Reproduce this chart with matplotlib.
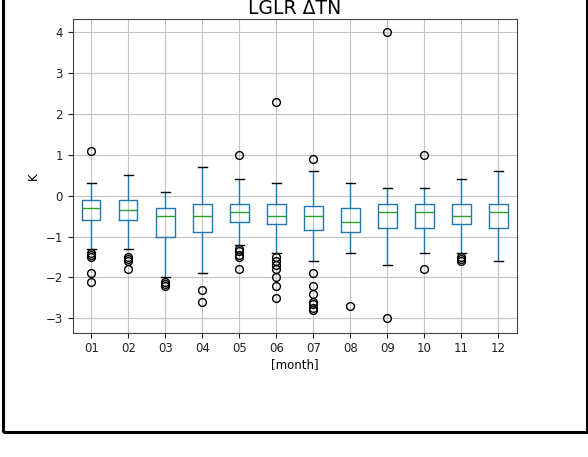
import matplotlib
matplotlib.use("Agg")
import matplotlib.pyplot as plt
from matplotlib.patches import Rectangle

# Monthly box statistics of LGLR ΔTN (K)
months = ["01", "02", "03", "04", "05", "06", "07", "08", "09", "10", "11", "12"]
whishi = [0.3, 0.5, 0.1, 0.7, 0.4, 0.3, 0.6, 0.3, 0.2, 0.2, 0.4, 0.6]
q3 = [-0.1, -0.1, -0.3, -0.2, -0.2, -0.2, -0.25, -0.3, -0.2, -0.2, -0.2, -0.2]
medians = [-0.3, -0.35, -0.5, -0.5, -0.4, -0.5, -0.5, -0.65, -0.4, -0.4, -0.5, -0.4]
q1 = [-0.6, -0.6, -1.0, -0.9, -0.65, -0.7, -0.85, -0.9, -0.8, -0.8, -0.7, -0.8]
whislo = [-1.3, -1.3, -2.0, -1.9, -1.2, -1.4, -1.6, -1.4, -1.7, -1.4, -1.4, -1.6]
fliers = [
    [1.1, -1.4, -1.45, -1.5, -1.9, -2.1],
    [-1.5, -1.55, -1.6, -1.8],
    [-2.1, -2.15, -2.2],
    [-2.3, -2.6],
    [1.0, -1.3, -1.35, -1.45, -1.5, -1.8],
    [2.3, -1.5, -1.6, -1.7, -1.8, -2.0, -2.2, -2.5],
    [0.9, -1.9, -2.2, -2.4, -2.6, -2.65, -2.75, -2.8],
    [-2.7],
    [4.0, -3.0],
    [1.0, -1.8],
    [-1.5, -1.55, -1.6],
    [],
]

W, H = 588, 457
fig = plt.figure(figsize=(W / 100, H / 100), dpi=100)
ax = fig.add_axes([72.7 / W, 1 - 332.7 / H, (517 - 72.7) / W, (332.7 - 19) / H])

stats = [
    dict(label=m, med=md, q1=a, q3=b, whislo=lo, whishi=hi, fliers=f)
    for m, md, a, b, lo, hi, f in zip(months, medians, q1, q3, whislo, whishi, fliers)
]

blue = "#1f77b4"
ax.bxp(
    stats,
    widths=0.5,
    boxprops=dict(color=blue, linewidth=1),
    whiskerprops=dict(color=blue, linewidth=1),
    capprops=dict(color="black", linewidth=1),
    medianprops=dict(color="#2ca02c", linewidth=1),
    flierprops=dict(marker="o", markerfacecolor="none", markeredgecolor="black",
                    markersize=5.6, markeredgewidth=1),
    capwidths=0.25,
)

ax.set_ylim(-3.35, 4.32)
ax.set_yticks([-3, -2, -1, 0, 1, 2, 3, 4])
ax.grid(True, color="#c4c4c4", linewidth=0.8)
ax.set_axisbelow(True)
ax.tick_params(labelsize=8.5, colors="#222222", labelcolor="#222222")
ax.set_xlabel("[month]", fontsize=8.5, labelpad=2)
ax.set_ylabel("K", fontsize=8.5)
for s in ax.spines.values():
    s.set_color("#444444")

fig.text(295 / W, 1 - 14 / H, "LGLR ΔTN", ha="center", va="baseline", fontsize=13.5)

# Frame around the whole figure
fig.patches.append(Rectangle((3 / W, 1 - 432 / H), (586.5 - 3) / W, 1.0, transform=fig.transFigure,
                             fill=False, edgecolor="black", linewidth=2.2, clip_on=False))

fig.savefig("out.png", dpi=100)
